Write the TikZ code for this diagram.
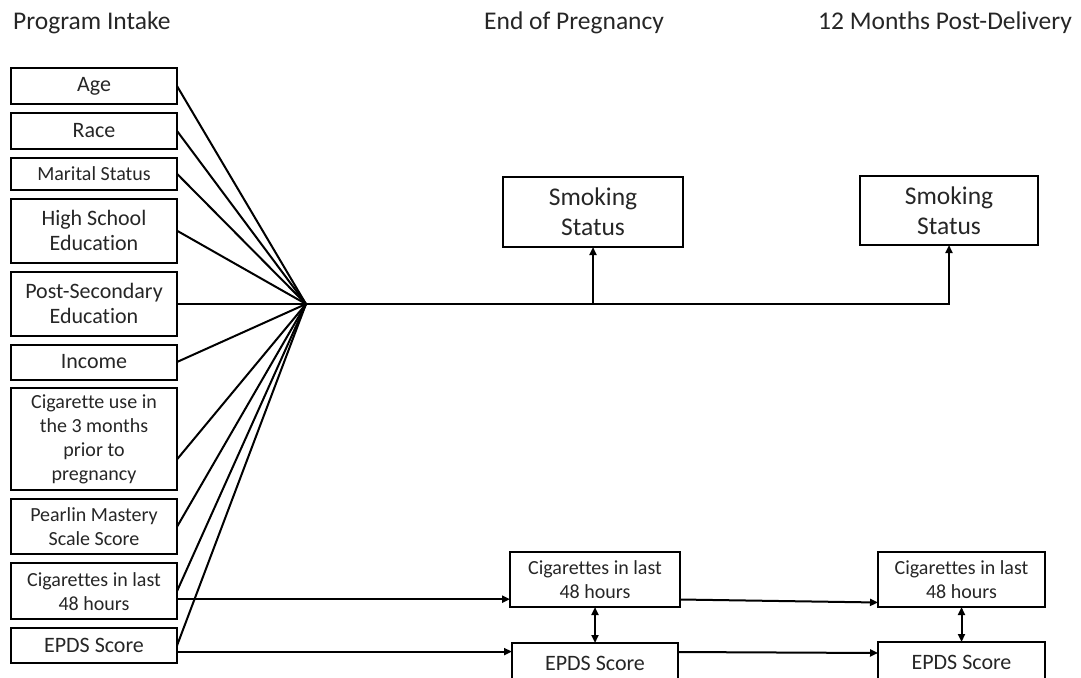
\documentclass[tikz,border=0pt]{standalone}
\usepackage{fontspec}
\setmainfont{Carlito}[Ligatures=NoCommon]
\usetikzlibrary{arrows.meta, positioning, calc}
\tikzstyle{block} = [rectangle, draw, line width=2pt, align=center, inner sep=2pt, outer sep=0pt, text=black!85, minimum width=166pt, font=\fontsize{22}{25}\selectfont]
\tikzstyle{small} = [font=\fontsize{20}{24}\selectfont]
\tikzstyle{big} = [font=\fontsize{25.5}{30}\selectfont]
\tikzstyle{head} = [anchor=base west, inner sep=0pt, text=black!85, font=\fontsize{25.5}{30}\selectfont]
\tikzstyle{line} = [line width=2pt]
\tikzstyle{conn} = [line width=2pt, -{Triangle[length=8pt,width=7pt]}]
\tikzstyle{both} = [line width=2pt, {Triangle[length=8pt,width=7pt]}-{Triangle[length=8pt,width=7pt]}]

\begin{document}
\begin{tikzpicture}[x=1pt, y=-1pt, node distance=8.9pt]
		\useasboundingbox (0,0) rectangle (1081,677);

		% time points
		\node[head] (intake) at (13,30) {Program Intake};
		\node[head] (endpreg) at (484,30) {End of Pregnancy};
		\node[head] (postdel) at (818,30) {12 Months Post-Delivery};

		% intake measures
		\node[block, minimum height=36pt] (age) at (94,86) {Age};
		\node[block, minimum height=36pt, below=of age] (race) {Race};
		\node[block, small, minimum height=32pt, below=of race] (marital) {Marital Status};
		\node[block, minimum height=64pt, below=of marital] (hs) {High School\\Education};
		\node[block, minimum height=64pt, below=of hs] (ps) {Post-Secondary\\Education};
		\node[block, minimum height=35pt, below=of ps] (income) {Income};
		\node[block, small, minimum height=102pt, below=of income] (cigprior) {Cigarette use in\\the 3 months\\prior to\\pregnancy};
		\node[block, small, minimum height=55pt, below=of cigprior] (pearlin) {Pearlin Mastery\\Scale Score};
		\node[block, small, minimum height=56pt, below=of pearlin] (cigin) {Cigarettes in last\\48 hours};
		\node[block, minimum height=35pt, below=of cigin] (epdsin) {EPDS Score};

		% end of pregnancy
		\node[block, big, minimum width=180pt, minimum height=70pt] (smokeend) at (593,212) {Smoking\\Status};
		\node[block, small, minimum width=170pt, minimum height=55pt] (cigend) at (595,579.5) {Cigarettes in last\\48 hours};
		\node[block, minimum width=166pt, minimum height=40pt] (epdsend) at (595,663) {EPDS Score};

		% 12 months post-delivery
		\node[block, big, minimum width=178pt, minimum height=69pt] (smokepost) at (949,210.5) {Smoking\\Status};
		\node[block, small, minimum width=167pt, minimum height=55pt] (cigpost) at (961.5,579.5) {Cigarettes in last\\48 hours};
		\node[block, minimum width=167pt, minimum height=40pt] (epdspost) at (961.5,662) {EPDS Score};

		\coordinate (hub) at (306,304);

		\foreach \n in {age, race, marital, hs, income, pearlin, cigin, epdsin}
			\draw[line] (\n.east) -- (hub);
		\draw[line] ([yshift=-20pt]cigprior.east) -- (hub);
		\draw[line] (ps.east |- hub) -- (hub);

		\draw[conn] (hub) -| (smokepost.south);
		\draw[conn] (hub -| smokeend.south) -- (smokeend.south);

		\draw[conn] ([yshift=-8pt]cigin.east) -- ([yshift=-8pt]cigin.east -| cigend.west);
		\draw[conn] ([yshift=-6pt]epdsin.east) -- ([yshift=-6pt]epdsin.east -| epdsend.west);
		\draw[conn] ([yshift=-20pt]cigend.east) -- ([yshift=-23pt]cigpost.west);
		\draw[conn] ([yshift=11pt]epdsend.east) -- ([yshift=9pt]epdspost.west);

		\draw[both] (cigend) -- (epdsend);
		\draw[both] (cigpost) -- (epdspost);
	\end{tikzpicture}
\end{document}
